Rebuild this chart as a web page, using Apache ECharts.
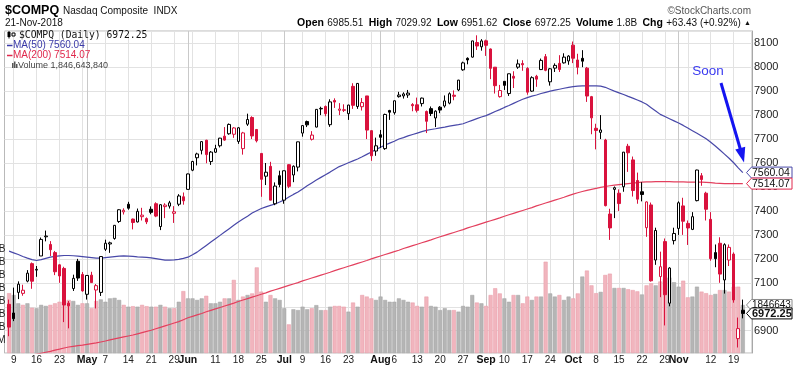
<!DOCTYPE html>
<html><head><meta charset="utf-8">
<script src="https://cdn.jsdelivr.net/npm/echarts/dist/echarts.min.js"></script>
<style>html,body{margin:0;padding:0;background:#fff}#c{width:800px;height:367px}</style>
</head><body><div id="c"></div>
<script>
const dates = ['2018-04-06','2018-04-09','2018-04-10','2018-04-11','2018-04-12','2018-04-13','2018-04-16','2018-04-17','2018-04-18','2018-04-19','2018-04-20','2018-04-23','2018-04-24','2018-04-25','2018-04-26','2018-04-27','2018-04-30',
'2018-05-01','2018-05-02','2018-05-03','2018-05-04','2018-05-07','2018-05-08','2018-05-09','2018-05-10','2018-05-11','2018-05-14','2018-05-15','2018-05-16','2018-05-17','2018-05-18','2018-05-21','2018-05-22','2018-05-23','2018-05-24','2018-05-25','2018-05-29','2018-05-30','2018-05-31',
'2018-06-01','2018-06-04','2018-06-05','2018-06-06','2018-06-07','2018-06-08','2018-06-11','2018-06-12','2018-06-13','2018-06-14','2018-06-15','2018-06-18','2018-06-19','2018-06-20','2018-06-21','2018-06-22','2018-06-25','2018-06-26','2018-06-27','2018-06-28','2018-06-29',
'2018-07-02','2018-07-03','2018-07-05','2018-07-06','2018-07-09','2018-07-10','2018-07-11','2018-07-12','2018-07-13','2018-07-16','2018-07-17','2018-07-18','2018-07-19','2018-07-20','2018-07-23','2018-07-24','2018-07-25','2018-07-26','2018-07-27','2018-07-30','2018-07-31',
'2018-08-01','2018-08-02','2018-08-03','2018-08-06','2018-08-07','2018-08-08','2018-08-09','2018-08-10','2018-08-13','2018-08-14','2018-08-15','2018-08-16','2018-08-17','2018-08-20','2018-08-21','2018-08-22','2018-08-23','2018-08-24','2018-08-27','2018-08-28','2018-08-29','2018-08-30','2018-08-31',
'2018-09-04','2018-09-05','2018-09-06','2018-09-07','2018-09-10','2018-09-11','2018-09-12','2018-09-13','2018-09-14','2018-09-17','2018-09-18','2018-09-19','2018-09-20','2018-09-21','2018-09-24','2018-09-25','2018-09-26','2018-09-27','2018-09-28',
'2018-10-01','2018-10-02','2018-10-03','2018-10-04','2018-10-05','2018-10-08','2018-10-09','2018-10-10','2018-10-11','2018-10-12','2018-10-15','2018-10-16','2018-10-17','2018-10-18','2018-10-19','2018-10-22','2018-10-23','2018-10-24','2018-10-25','2018-10-26','2018-10-29','2018-10-30','2018-10-31',
'2018-11-01','2018-11-02','2018-11-05','2018-11-06','2018-11-07','2018-11-08','2018-11-09','2018-11-12','2018-11-13','2018-11-14','2018-11-15','2018-11-16','2018-11-19','2018-11-20','2018-11-21'];

const prevClose = 7076.55; // close before the first day shown

const opens = [7010,6974,7060,7056,7107,7180,7153,7212,7292,7260,7226,7175,7160,7015,7076,7190,7135,
7052,7132,7070,7060,7240,7262,7285,7356,7396,7428,7366,7354,7376,7368,7407,7430,7335,7418,7420,7390,7428,7459,
7490,7570,7622,7653,7695,7606,7645,7672,7712,7722,7720,7690,7660,7762,7790,7740,7640,7545,7586,7430,7547,
7445,7593,7550,7583,7725,7773,7699,7750,7828,7836,7760,7861,7820,7822,7806,7920,7836,7835,7880,7735,7650,
7718,7660,7819,7810,7877,7880,7884,7844,7843,7848,7815,7827,7788,7833,7838,7850,7883,7905,7989,8037,8042,8103,8085,
8110,8076,8000,7877,7941,7890,7962,8000,8015,7995,7900,7962,7990,8044,7939,7996,8016,8018,8026,
8092,8030,8037,7996,7877,7745,7728,7696,7387,7490,7474,7501,7670,7613,7527,7480,7330,7425,7195,7126,7272,7015,7276,
7327,7421,7348,7323,7443,7547,7474,7365,7226,7265,7112,7195,7220,6867,6985.51];

const highs = [7030,7080,7106,7092,7153,7185,7170,7289,7318,7274,7233,7177,7167,7024,7134,7200,7145,
7131,7146,7095,7210,7280,7272,7341,7407,7411,7438,7368,7410,7413,7373,7419,7436,7428,7432,7442,7420,7470,7477,
7556,7609,7643,7691,7697,7650,7676,7705,7750,7765,7750,7750,7730,7806,7795,7742,7641,7600,7605,7519,7568,
7568,7595,7590,7689,7757,7777,7733,7825,7835,7840,7866,7870,7850,7845,7843,7933,7933,7871,7880,7737,7706,
7738,7806,7822,7861,7897,7895,7905,7850,7873,7873,7819,7836,7820,7838,7882,7895,7903,7947,8023,8041,8110,8133,8117,
8115,8078,8000,7926,7941,7973,7983,8032,8029,8000,7962,7968,8036,8055,7996,8016,8050,8058,8050,
8107,8056,8071,8001,7880,7764,7800,7701,7409,7502,7490,7646,7680,7627,7560,7520,7440,7435,7330,7230,7285,7165,7330,
7440,7455,7360,7395,7572,7558,7480,7395,7260,7290,7265,7260,7227,6955,7029.92];

const lows = [6877,6940,7032,7046,7102,7075,7125,7212,7273,7212,7132,7100,6936,6910,7066,7108,7063,
7030,7100,6993,7045,7233,7225,7280,7350,7385,7405,7323,7352,7360,7345,7386,7374,7320,7370,7410,7350,7420,7426,
7490,7566,7590,7636,7599,7592,7642,7665,7693,7718,7705,7680,7635,7755,7700,7686,7459,7508,7444,7424,7499,
7430,7495,7520,7565,7710,7750,7694,7749,7800,7795,7751,7830,7800,7813,7780,7826,7826,7819,7700,7609,7630,
7663,7655,7780,7802,7873,7869,7872,7816,7811,7836,7725,7796,7750,7808,7831,7845,7862,7900,7985,8012,8040,8072,8069,
8047,7950,7890,7873,7905,7880,7913,7993,7985,7885,7897,7918,7988,7983,7923,7980,7980,8015,8010,
8017,7970,8000,7855,7720,7657,7700,7419,7279,7370,7400,7480,7563,7460,7430,7440,7292,7105,7175,7040,6922,7002,7260,
7300,7300,7258,7320,7440,7505,7360,7192,7165,7100,7055,7170,7017,6830,6951.62];

const closes = [6915.11,6950.34,7094.30,7069.03,7140.25,7106.65,7156.28,7281.10,7295.24,7238.06,7146.13,7128.60,7007.35,7003.74,7118.68,7119.80,7066.27,
7130.70,7100.90,7088.15,7209.62,7265.21,7266.90,7339.91,7404.97,7402.88,7411.32,7351.63,7398.30,7382.47,7354.34,7394.04,7378.46,7425.96,7424.43,7433.85,7396.59,7462.45,7442.12,
7554.33,7606.46,7637.86,7689.24,7635.07,7645.51,7659.93,7703.79,7695.70,7761.04,7746.38,7747.03,7725.59,7781.51,7712.95,7692.82,7532.01,7561.63,7445.08,7503.68,7510.30,
7567.69,7502.67,7586.43,7688.39,7756.20,7759.20,7716.61,7823.92,7825.98,7805.72,7855.12,7854.44,7825.30,7820.20,7841.87,7840.77,7932.24,7852.18,7737.42,7630.00,7671.79,
7707.29,7802.69,7812.01,7859.68,7883.66,7888.33,7891.78,7839.11,7819.71,7870.89,7774.12,7806.52,7816.33,7821.01,7859.17,7889.10,7878.46,7945.98,8017.90,8030.04,8109.69,8088.36,8109.54,
8091.25,7995.17,7922.73,7902.54,7924.16,7972.47,7954.23,8013.71,8010.04,7895.79,7956.11,7950.04,8028.23,7986.96,7993.25,8007.47,7990.37,8041.97,8046.35,
8037.30,7999.55,8025.09,7879.51,7788.45,7735.95,7738.02,7422.05,7329.06,7496.89,7430.74,7645.49,7642.70,7485.14,7449.03,7468.63,7437.54,7108.40,7318.34,7167.21,7050.29,7161.65,7305.90,
7434.06,7356.99,7328.85,7375.96,7570.75,7530.89,7406.90,7200.87,7200.88,7136.39,7259.03,7247.87,7028.48,6908.82,6972.25];

// volume in billions of shares
const volumes = [2.30,2.23,1.91,1.85,1.91,1.74,1.72,1.85,1.81,1.85,
1.91,1.97,2.00,2.04,2.00,1.85,1.91,1.91,1.72,2.00,
2.06,1.97,2.10,2.12,2.04,1.85,1.78,1.80,1.78,1.85,
1.80,1.78,1.78,1.85,1.78,1.72,1.72,1.97,2.38,2.10,
2.10,2.04,2.10,2.20,1.91,1.91,1.97,2.10,2.10,2.81,
2.04,2.17,2.23,2.29,3.29,2.36,1.97,2.23,2.10,2.04,
1.72,1.10,1.68,1.65,1.78,1.68,1.72,1.84,1.65,1.65,
1.78,1.81,1.81,1.78,1.59,1.94,1.78,2.23,2.17,2.10,
2.04,2.17,2.04,1.97,1.97,2.10,2.04,1.97,1.94,1.81,
1.78,2.17,1.81,1.78,1.65,1.72,1.65,1.65,1.59,1.81,
1.78,2.23,1.94,1.91,1.81,2.23,2.49,2.29,2.10,1.97,
2.23,2.23,1.91,2.17,2.04,2.17,2.17,3.51,2.29,2.17,
2.23,2.04,2.17,2.10,2.29,2.94,3.17,2.60,2.30,2.35,
3.00,3.05,2.50,2.50,2.50,2.45,2.42,2.37,2.25,2.60,
2.68,2.60,2.75,2.85,2.90,2.72,2.55,2.78,2.14,2.17,
2.55,2.36,2.30,2.23,2.27,2.42,2.42,2.36,2.55,2.55,
1.8466];

const ma50 = [7232,7225,7218,7210,7203,7197,7193,7197,7202,7207,
7210,7212,7214,7214,7213,7211,7209,7207,7205,7203,
7203,7205,7207,7209,7211,7212,7211,7210,7208,7207,
7206,7204,7201,7198,7195,7195,7196,7198,7202,7207,
7217,7228,7242,7256,7270,7284,7298,7312,7326,7340,
7354,7366,7378,7391,7401,7410,7417,7423,7429,7437,
7446,7458,7469,7479,7492,7505,7517,7529,7540,7551,
7562,7574,7585,7593,7601,7609,7617,7626,7636,7646,
7656,7666,7675,7683,7691,7700,7706,7713,7719,7725,
7731,7736,7740,7743,7747,7750,7754,7757,7760,7764,
7771,7778,7785,7792,7798,7806,7815,7823,7832,7840,
7849,7858,7866,7873,7879,7884,7890,7895,7900,7904,
7908,7912,7916,7919,7921,7922,7922,7922,7922,7921,
7916,7908,7900,7893,7886,7878,7871,7863,7855,7845,
7831,7817,7803,7794,7785,7776,7767,7757,7746,7735,
7724,7713,7701,7687,7671,7654,7637,7620,7601,7580,
7560.04];

const ma200 = [6779,6783,6787,6791,6795,6799,6802,6806,6810,
6814,6819,6823,6828,6832,
6835,6838,6840,6843,6846,6849,
6853,6857,6862,6866,6870,6874,
6878,6882,6887,6892,6897,6902,
6908,6914,6920,6926,6932,6938,6946,
6954,6960,6966,6972,6979,6985,6991,6997,7003,7009,
7015,7022,7028,7034,7040,7046,7052,7058,7065,7071,
7077,7083,7089,7095,7101,7108,7114,7120,7126,7132,
7138,7144,7151,7157,7163,7169,7175,7181,7187,7193,
7200,7206,7212,7218,7224,7230,7236,7243,7249,7255,
7261,7267,7273,7279,7286,7292,7298,7304,7310,7316,
7322,7329,7335,7341,7347,7353,7359,7365,7371,7378,
7384,7390,7396,7402,7408,7414,7421,7427,7433,7439,
7445,7451,7457,7464,7470,7476,
7481,7486,7490,7494,7498,7502,7505,7508,7510,7512,7514,7516,7518,7520,
7521,7521,7522,7522,7522,7522,7521,7521,7521,7520,7520,7520,7520,7519,
7518,7516,7515,7514,7514,7514,7514,7514.07];

const tickDates = ['2018-04-09','2018-04-16','2018-04-23','2018-05-01','2018-05-07','2018-05-14','2018-05-21','2018-05-29','2018-06-01','2018-06-11','2018-06-18','2018-06-25','2018-07-02','2018-07-09','2018-07-16','2018-07-23','2018-08-01','2018-08-06','2018-08-13','2018-08-20','2018-08-27','2018-09-04','2018-09-10','2018-09-17','2018-09-24','2018-10-01','2018-10-08','2018-10-15','2018-10-22','2018-10-29','2018-11-01','2018-11-12','2018-11-19'];
const tickTexts = ['9','16','23','May','7','14','21','29','Jun','11','18','25','Jul','9','16','23','Aug','6','13','20','27','Sep','10','17','24','Oct','8','15','22','29','Nov','12','19'];

// volume scale ticks (left edge, mostly cut off by the page edge)
const volTicks = [0.5, 1.0, 1.5, 2.0, 2.5, 3.0, 3.5, 4.0];
const volTickTexts = ['500M', '1.0B', '1.5B', '2.0B', '2.5B', '3.0B', '3.5B', '4.0B'];

const RED = '#d9123d', BLACK = '#000';
const FONT = '"Liberation Sans", Arial, sans-serif';

const cats = ['pad0'].concat(dates, ['pad1', 'pad2']);
const tickMap = {};
tickDates.forEach((d, k) => { tickMap[d] = tickTexts[k]; });
const weekStart = new Set(), monthStart = new Set();
dates.forEach((d, i) => {
  if (i === 0) return;
  const a = new Date(dates[i - 1] + 'T00:00:00Z'), b = new Date(d + 'T00:00:00Z');
  if (b.getUTCDay() <= a.getUTCDay() || (b - a) > 4 * 86400000) weekStart.add(d);
  if (b.getUTCMonth() !== a.getUTCMonth()) monthStart.add(d);
});

const candleData = dates.map((d, i) => {
  const prev = i === 0 ? prevClose : closes[i - 1];
  const stroke = closes[i] < prev ? RED : BLACK;
  const fill = closes[i] >= opens[i] ? '#fff' : stroke;
  return { value: [i + 1, opens[i], closes[i], lows[i], highs[i]],
    itemStyle: { color: fill, color0: fill, borderColor: stroke, borderColor0: stroke, borderColorDoji: stroke, borderWidth: 1 } };
});
const volData = dates.map((d, i) => {
  const prev = i === 0 ? prevClose : closes[i - 1];
  const down = closes[i] < prev;
  return { value: [i + 1, volumes[i]],
    itemStyle: { color: down ? '#f1b5be' : '#b5b5b5', borderColor: down ? '#e89aa7' : '#a2a2a2', borderWidth: 0.5 } };
});
const ma50Data = ma50.map((v, i) => [i + 1, v]);
const ma200Data = ma200.map((v, i) => [i + 1, v]);

const chart = echarts.init(document.getElementById('c'), null, { renderer: 'canvas', width: 800, height: 367 });
const option = {
  animation: false,
  backgroundColor: '#fff',
  grid: { left: 4.5, right: 48, top: 31, bottom: 14, show: true, borderColor: '#b9b9b9', borderWidth: 1, backgroundColor: '#fff' },
  xAxis: [{
    type: 'category', data: cats, boundaryGap: false, gridIndex: 0,
    axisLine: { show: false }, axisTick: { show: false },
    axisLabel: {
      interval: (idx, val) => tickMap[val] !== undefined,
      formatter: (val) => { const t = tickMap[val]; if (t === undefined) return ''; return /^[A-Z]/.test(t) ? '{m|' + t + '}' : t; },
      fontFamily: FONT, fontSize: 10, color: '#222', margin: 2,
      rich: { m: { fontFamily: FONT, fontSize: 10.5, fontWeight: 'bold', color: '#111' } }
    },
    splitLine: { show: true, interval: (idx, val) => weekStart.has(val), lineStyle: { color: '#e2e2e2', width: 1 } }
  }, {
    type: 'category', data: cats, boundaryGap: false, gridIndex: 0, position: 'bottom',
    axisLine: { show: false }, axisTick: { show: false }, axisLabel: { show: false },
    splitLine: { show: true, interval: (idx, val) => monthStart.has(val), lineStyle: { color: '#c9c9c9', width: 1 } }
  }],
  yAxis: [{
    type: 'value', position: 'right', min: 6807, max: 8151, splitNumber: 13, gridIndex: 0,
    axisLine: { show: true, lineStyle: { color: '#a8a8a8' } }, axisTick: { show: false },
    axisLabel: { margin: 2, fontFamily: FONT, fontSize: 11, color: '#222',
      formatter: v => (Math.abs(v % 100) < 1e-6 ? String(Math.round(v)) : '') },
    splitLine: { show: true, lineStyle: { color: '#e2e2e2', width: 1 } }
  }, {
    type: 'value', position: 'left', min: 0, max: 12.38, splitNumber: 25, gridIndex: 0,
    axisLine: { show: false }, axisTick: { show: false }, splitLine: { show: false },
    axisLabel: { show: false }
  }],
  series: [{
    type: 'bar', name: 'Volume', xAxisIndex: 0, yAxisIndex: 1, data: volData,
    barWidth: 4, z: 1, encode: { x: 0, y: 1 }
  }, {
    type: 'line', name: 'MA(200)', xAxisIndex: 0, yAxisIndex: 0, data: ma200Data, showSymbol: false,
    lineStyle: { color: '#e3405e', width: 1.2 }, z: 3, clip: true
  }, {
    type: 'line', name: 'MA(50)', xAxisIndex: 0, yAxisIndex: 0, data: ma50Data, showSymbol: false,
    lineStyle: { color: '#4848a8', width: 1.2 }, z: 3, clip: true
  }, {
    type: 'candlestick', name: '$COMPQ', xAxisIndex: 0, yAxisIndex: 0, data: candleData,
    barWidth: 3, z: 4, encode: { x: 0, y: [1, 2, 3, 4] }
  }]
};
chart.setOption(option);

const lastClose = closes[closes.length - 1];
const lastVol = volumes[volumes.length - 1];
const lastMa50 = ma50[ma50.length - 1];
const lastMa200 = ma200[ma200.length - 1];
const yP = v => chart.convertToPixel({ yAxisIndex: 0 }, v);
const yV = v => chart.convertToPixel({ yAxisIndex: 1 }, v);

function tag(id, yc, text, color, bold, fs, z) {
  const x0 = 746.5, x1 = 792, h = 5.5;
  return [{ type: 'polygon', id: id + 'b', z: z, shape: { points: [[x0, yc], [x0 + 5, yc - h], [x1, yc - h], [x1, yc + h], [x0 + 5, yc + h]] },
      style: { fill: '#fff', stroke: color, lineWidth: 1 } },
    { type: 'text', id: id + 't', z: z + 1, x: x0 + 5.5, y: yc + 0.5,
      style: { text: text, font: (bold ? 'bold ' : '') + fs + 'px ' + FONT, fill: '#111', verticalAlign: 'middle', align: 'left' } }];
}

const volLabels = volTicks.map((v, k) => ({ type: 'text', z: 40, x: 5.5, y: yV(v),
  style: { text: volTickTexts[k], font: '10px ' + FONT, fill: '#222', align: 'right', verticalAlign: 'middle' } }));

const g = [
  { type: 'text', x: 5, y: 11, style: { text: '$COMPQ', font: 'bold 12.5px ' + FONT, fill: '#000', verticalAlign: 'middle' } },
  { type: 'text', x: 63, y: 11.5, style: { text: 'Nasdaq Composite  INDX', font: '10px ' + FONT, fill: '#111', verticalAlign: 'middle' } },
  { type: 'text', x: 5, y: 23.5, style: { text: '21-Nov-2018', font: '10px ' + FONT, fill: '#111', verticalAlign: 'middle' } },
  { type: 'text', x: 751, y: 11.5, style: { text: '\u00A9StockCharts.com', font: '10px ' + FONT, fill: '#555', align: 'right', verticalAlign: 'middle' } },
  { type: 'text', x: 751, y: 23.5, style: {
      text: '{b|Open} {v|6985.51} {b|High} {v|7029.92} {b|Low} {v|6951.62} {b|Close} {v|6972.25} {b|Volume} {v|1.8B} {b|Chg} {v|+63.43 (+0.92%)} {t|\u25B2}',
      align: 'right', verticalAlign: 'middle',
      rich: { b: { font: 'bold 10.5px ' + FONT, fill: '#000', padding: [0, 0, 0, 2] }, v: { font: '10px ' + FONT, fill: '#111' }, t: { font: '7px ' + FONT, fill: '#111' } } } },
  // legend block
  { type: 'rect', shape: { x: 7.5, y: 32, width: 3, height: 5 }, style: { fill: '#000' } },
  { type: 'line', shape: { x1: 9, y1: 31, x2: 9, y2: 38.5 }, style: { stroke: '#000', lineWidth: 1 } },
  { type: 'rect', shape: { x: 12, y: 33, width: 3, height: 3 }, style: { fill: '#fff', stroke: '#000', lineWidth: 1 } },
  { type: 'text', x: 19, y: 35, style: { text: '$COMPQ (Daily) ' + lastClose.toFixed(2), font: '9.7px "DejaVu Sans Mono", monospace', fill: '#111', verticalAlign: 'middle' } },
  { type: 'line', shape: { x1: 7, y1: 45.5, x2: 12.5, y2: 45.5 }, style: { stroke: '#3a3aa8', lineWidth: 1.5 } },
  { type: 'text', x: 13, y: 45.5, style: { text: 'MA(50) ' + lastMa50.toFixed(2), font: '10px ' + FONT, fill: '#3a3aa8', verticalAlign: 'middle' } },
  { type: 'line', shape: { x1: 7, y1: 55.5, x2: 12.5, y2: 55.5 }, style: { stroke: '#e0284c', lineWidth: 1.5 } },
  { type: 'text', x: 13, y: 55.5, style: { text: 'MA(200) ' + lastMa200.toFixed(2), font: '10px ' + FONT, fill: '#e0284c', verticalAlign: 'middle' } },
  { type: 'rect', shape: { x: 12, y: 63, width: 1.5, height: 5 }, style: { fill: '#555' } },
  { type: 'rect', shape: { x: 14, y: 61.5, width: 1.5, height: 6.5 }, style: { fill: '#555' } },
  { type: 'rect', shape: { x: 16, y: 64, width: 1.5, height: 4 }, style: { fill: '#555' } },
  { type: 'text', x: 18, y: 65.5, style: { text: 'Volume 1,846,643,840', font: '9px ' + FONT, fill: '#444', verticalAlign: 'middle' } },
  // annotation
  { type: 'text', x: 708, y: 71.5, z: 50, style: { text: 'Soon', font: '13.5px ' + FONT, fill: '#3a3af0', align: 'center', verticalAlign: 'middle' } },
  { type: 'line', z: 50, shape: { x1: 721, y1: 83, x2: 740.3, y2: 149 }, style: { stroke: '#1414f0', lineWidth: 3 } },
  { type: 'polygon', z: 50, shape: { points: [[744, 162.5], [735.3, 149.6], [745.2, 146.8]] }, style: { fill: '#1414f0' } }
]
.concat(volLabels)
.concat(tag('m50', yP(lastMa50), lastMa50.toFixed(2), '#4848a8', false, 10.5, 60))
.concat(tag('m200', yP(lastMa200), lastMa200.toFixed(2), '#e0284c', false, 10.5, 62))
.concat(tag('vol', yV(lastVol), '1846643', '#8a8a8a', false, 10, 64))
.concat(tag('px', yP(lastClose), lastClose.toFixed(2), '#000', true, 11, 66));

chart.setOption({ graphic: g });
</script>
</body></html>
